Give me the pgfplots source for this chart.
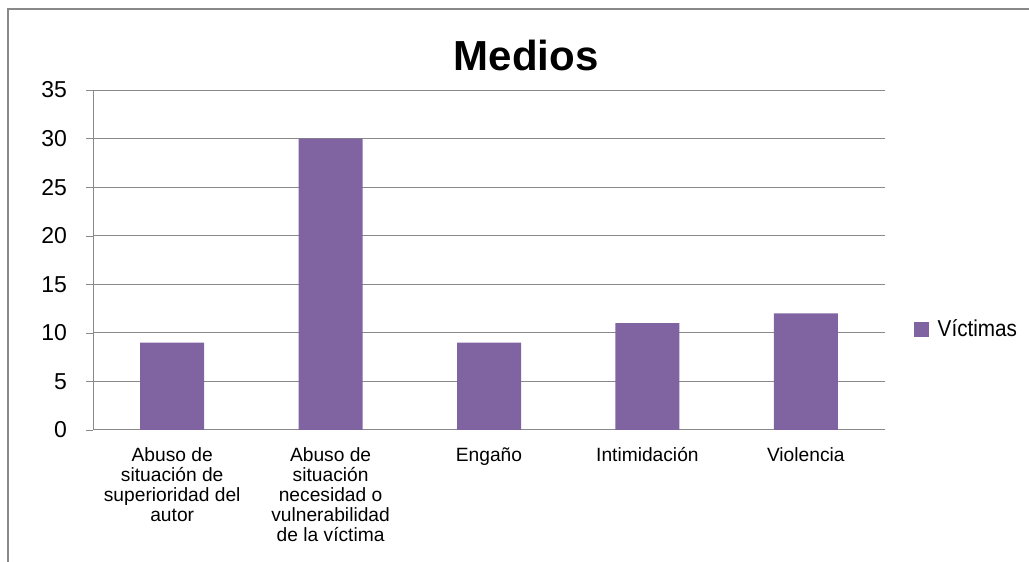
\documentclass[border=0pt]{standalone}
\usepackage{pgfplots}
\pgfplotsset{compat=1.18}
\usepackage{fontspec}
\setmainfont{Liberation Sans}
\definecolor{barpurple}{HTML}{8064A2}
\definecolor{gridgray}{HTML}{898989}
\newcommand{\st}{\rule{0pt}{7.6pt}}
\begin{document}
% 1 px of the reference = 0.5pt
\begin{tikzpicture}
  \path[use as bounding box] (0,0) rectangle (514.5pt,281pt);
  \draw[gridgray, line width=1pt] (4pt,0) -- (4pt,276.5pt) -- (514.5pt,276.5pt);
  \begin{axis}[
      at={(46.5pt,66pt)}, anchor=south west,
      scale only axis,
      width=396pt, height=170pt,
      xmin=-0.5, xmax=4.5,
      ymin=0, ymax=35,
      ytick={0,5,...,35},
      xtick={0,1,2,3,4},
      xticklabels={{\st Abuso de\\situación de\\superioridad del\\autor},
                   {\st Abuso de\\situación\\necesidad o\\vulnerabilidad\\de la víctima},
                   {\st Engaño},{\st Intimidación},{\st Violencia}},
      xticklabel style={font=\fontsize{9.6}{10}\selectfont, align=center, anchor=north, yshift=-1pt},
      yticklabel style={font=\fontsize{11.5}{13}\selectfont, xshift=-6pt},
      /pgf/number format/assume math mode=true,
      extra x ticks={-0.5,0.5,1.5,2.5,3.5,4.5},
      extra x tick labels={},
      extra x tick style={major tick length=4pt, tick style={gridgray}, tickpos=left, xtick align=outside},
      major x tick style={draw=none},
      ytick align=outside, ytick pos=left,
      major tick length=3.5pt,
      tick style={gridgray},
      ymajorgrids,
      grid style={gridgray, line width=0.5pt},
      axis x line*=bottom, axis y line*=left,
      axis line style={gridgray, line width=0.5pt},
      ybar, bar width=32pt,
      legend style={at={(1.036,0.295)}, anchor=west, draw=none, inner sep=0pt,
                    font=\fontsize{11.5}{13}\selectfont},
      legend image code/.code={\fill[barpurple] (0cm,-0.13cm) rectangle (0.26cm,0.13cm);},
    ]
    \addplot[fill=barpurple, draw=none] coordinates {(0,9) (1,30) (2,9) (3,11) (4,12)};
    \addlegendentry{\hspace{2.5pt}\scalebox{0.9}[1]{Víctimas}}
  \end{axis}
  \node at (263pt,253.5pt) {\fontsize{21}{24}\selectfont\bfseries Medios};
\end{tikzpicture}
\end{document}
